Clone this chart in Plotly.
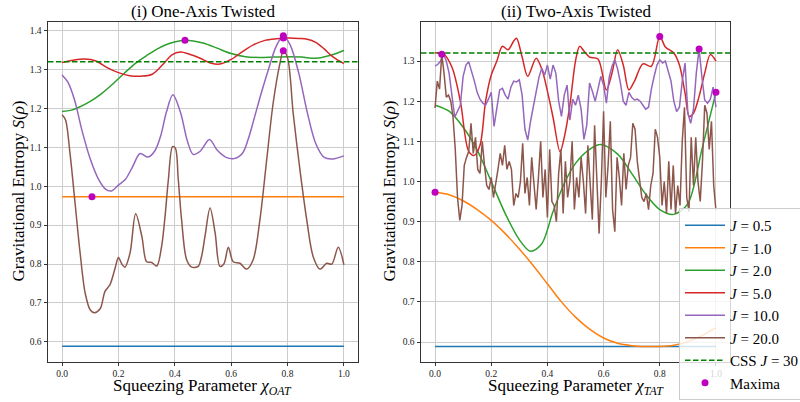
import numpy as np
import plotly.graph_objects as go

# ---------------- One-axis twisted (OAT) ----------------
oat_j05_x = [0.0, 1.0]
oat_j05_s = [0.589, 0.589]

oat_j1_x = [0.0, 1.0]
oat_j1_s = [0.973, 0.973]

oat_j2_x = [0, 0.03, 0.06, 0.1, 0.14, 0.18, 0.22, 0.26, 0.3, 0.34, 0.38, 0.42, 0.436,
            0.46, 0.5, 0.55, 0.6, 0.65, 0.7, 0.75, 0.8, 0.85, 0.9, 0.95, 1.0]
oat_j2_s = [1.192, 1.195, 1.203, 1.218, 1.238, 1.263, 1.290, 1.316, 1.336, 1.354, 1.367,
            1.374, 1.375, 1.374, 1.368, 1.355, 1.341, 1.333, 1.331, 1.332, 1.333, 1.332,
            1.329, 1.336, 1.349]

oat_j5_x = [0, 0.04, 0.08, 0.12, 0.16, 0.2, 0.24, 0.28, 0.32, 0.36, 0.39, 0.42, 0.45, 0.49,
            0.53, 0.56, 0.6, 0.64, 0.68, 0.72, 0.76, 0.8, 0.84, 0.87, 0.9, 0.93, 0.96, 1.0]
oat_j5_s = [1.318, 1.324, 1.327, 1.322, 1.305, 1.292, 1.284, 1.283, 1.288, 1.315, 1.338,
            1.345, 1.340, 1.329, 1.316, 1.314, 1.326, 1.346, 1.364, 1.375, 1.379, 1.381,
            1.380, 1.378, 1.370, 1.353, 1.333, 1.315]

oat_j10_x = [0, 0.02, 0.045, 0.07, 0.1, 0.13, 0.155, 0.175, 0.2, 0.225, 0.25, 0.277, 0.305,
             0.33, 0.35, 0.37, 0.393, 0.42, 0.445, 0.465, 0.49, 0.523, 0.55, 0.58, 0.61,
             0.64, 0.66, 0.68, 0.705, 0.73, 0.76, 0.785, 0.81, 0.84, 0.87, 0.9, 0.93, 0.96,
             1.0]
oat_j10_s = [1.286, 1.268, 1.22, 1.145, 1.07, 1.017, 0.992, 0.988, 1.003, 1.018, 1.05,
             1.084, 1.075, 1.092, 1.13, 1.19, 1.235, 1.19, 1.115, 1.082, 1.09, 1.12, 1.093,
             1.075, 1.071, 1.085, 1.12, 1.17, 1.235, 1.295, 1.36, 1.387, 1.362, 1.29, 1.19,
             1.11, 1.074, 1.07, 1.078]

oat_j20_x = [0, 0.012, 0.028, 0.046, 0.064, 0.082, 0.1, 0.115, 0.135, 0.152, 0.17, 0.188,
             0.2, 0.212, 0.223, 0.241, 0.261, 0.283, 0.3, 0.318, 0.336, 0.353, 0.365, 0.377,
             0.392, 0.402, 0.412, 0.424, 0.442, 0.46, 0.483, 0.495, 0.507, 0.525, 0.543,
             0.56, 0.574, 0.59, 0.607, 0.631, 0.655, 0.678, 0.702, 0.726, 0.749, 0.773,
             0.785, 0.8, 0.82, 0.844, 0.868, 0.891, 0.915, 0.939, 0.957, 0.98, 1.0]
oat_j20_s = [1.184, 1.171, 1.085, 0.957, 0.828, 0.725, 0.682, 0.675, 0.685, 0.729, 0.747,
             0.789, 0.817, 0.800, 0.792, 0.828, 0.929, 0.871, 0.806, 0.804, 0.795, 0.845,
             0.92, 1.016, 1.102, 1.098, 1.02, 0.914, 0.811, 0.792, 0.794, 0.82, 0.871,
             0.944, 0.880, 0.794, 0.80, 0.843, 0.806, 0.802, 0.787, 0.811, 0.914, 1.068,
             1.214, 1.316, 1.348, 1.33, 1.188, 1.042, 0.914, 0.819, 0.787, 0.802, 0.80,
             0.843, 0.798]

oat_max_x = [0.106, 0.436, 0.785, 0.785, 0.785]
oat_max_s = [0.973, 1.375, 1.381, 1.387, 1.348]

# ---------------- Two-axis twisted (TAT) ----------------
tat_j05_x = [0.0, 1.0]
tat_j05_s = [0.589, 0.589]

tat_j1_x = [0, 0.05, 0.1, 0.15, 0.2, 0.25, 0.3, 0.35, 0.4, 0.45, 0.5, 0.55, 0.6, 0.65, 0.7,
            0.75, 0.8, 0.85, 0.9, 0.95, 1.0]
tat_j1_s = [0.973, 0.967, 0.952, 0.930, 0.903, 0.870, 0.832, 0.790, 0.745, 0.700, 0.662,
            0.632, 0.610, 0.597, 0.591, 0.589, 0.589, 0.592, 0.601, 0.616, 0.636]

tat_j2_x = [0, 0.05, 0.1, 0.15, 0.2, 0.25, 0.3, 0.34, 0.38, 0.42, 0.46, 0.5, 0.55, 0.59,
            0.65, 0.7, 0.75, 0.8, 0.85, 0.9, 0.95, 1.0]
tat_j2_s = [1.190, 1.175, 1.135, 1.078, 1.000, 0.920, 0.855, 0.826, 0.845, 0.925, 0.995,
            1.045, 1.080, 1.092, 1.068, 1.020, 0.968, 0.930, 0.918, 0.945, 1.080, 1.222]

tat_j5_x = [0.0, 0.03, 0.06, 0.09, 0.12, 0.14, 0.16, 0.18, 0.2, 0.22, 0.24, 0.26, 0.28, 0.29,
            0.31, 0.33, 0.36, 0.38, 0.4, 0.42, 0.445, 0.46, 0.48, 0.5, 0.515, 0.53, 0.55,
            0.58, 0.61, 0.63, 0.65, 0.67, 0.69, 0.71, 0.74, 0.77, 0.8, 0.82, 0.85, 0.87,
            0.89, 0.905, 0.92, 0.94, 0.96, 0.98, 1.0]
tat_j5_s = [1.320, 1.318, 1.285, 1.200, 1.075, 1.065, 1.090, 1.200, 1.265, 1.300, 1.337,
            1.328, 1.350, 1.357, 1.310, 1.262, 1.307, 1.280, 1.225, 1.160, 1.074, 1.110,
            1.190, 1.300, 1.337, 1.325, 1.310, 1.305, 1.228, 1.270, 1.328, 1.290, 1.228,
            1.250, 1.293, 1.287, 1.361, 1.335, 1.320, 1.290, 1.220, 1.162, 1.170, 1.212,
            1.270, 1.316, 1.300]

tat_j10_s = [1.287, 1.292, 1.300, 1.318, 1.300, 1.270, 1.215, 1.160, 1.175, 1.190, 1.262,
             1.290, 1.298, 1.275, 1.250, 1.222, 1.205, 1.195, 1.190, 1.205, 1.222, 1.137,
             1.180, 1.228, 1.232, 1.215, 1.205, 1.235, 1.250, 1.248, 1.253, 1.215, 1.130,
             1.103, 1.150, 1.187, 1.230, 1.260, 1.282, 1.265, 1.290, 1.255, 1.290, 1.270,
             1.200, 1.162, 1.215, 1.240, 1.153, 1.205, 1.190, 1.215, 1.180, 1.105, 1.140,
             1.245, 1.225, 1.200, 1.230, 1.262, 1.240, 1.195, 1.260, 1.287, 1.303, 1.280,
             1.245, 1.200, 1.190, 1.222, 1.210, 1.203, 1.205, 1.200, 1.190, 1.180, 1.185,
             1.230, 1.262, 1.290, 1.303, 1.295, 1.300, 1.275, 1.250, 1.200, 1.174, 1.185,
             1.250, 1.295, 1.170, 1.145, 1.180, 1.270, 1.330, 1.260, 1.203, 1.195, 1.205,
             1.235, 1.185]
tat_j10_x = np.linspace(0.0, 1.0, len(tat_j10_s))

tat_j20_s = [1.183, 1.250, 1.230, 1.317, 1.270, 1.210, 1.215, 1.200, 1.160, 1.080, 0.960,
             0.903, 0.940, 1.040, 1.060, 1.075, 1.145, 1.070, 1.110, 1.030, 1.020, 1.100,
             1.040, 0.990, 0.980, 1.010, 0.960, 0.990, 1.030, 1.070, 1.040, 1.090, 1.030,
             1.050, 1.030, 0.940, 0.970, 0.960, 1.000, 1.095, 0.970, 1.010, 0.940, 1.060,
             0.990, 0.930, 1.010, 1.100, 0.960, 1.030, 0.910, 1.080, 0.950, 0.940, 0.900,
             1.020, 1.080, 0.920, 1.050, 0.960, 1.000, 1.100, 0.930, 1.010, 0.960, 1.060,
             1.000, 0.920, 1.090, 0.990, 0.905, 1.140, 1.000, 0.870, 1.000, 1.175, 0.960,
             1.040, 1.150, 0.930, 0.875, 1.060, 1.010, 0.940, 1.070, 0.980, 1.040, 1.060,
             1.145, 1.130, 1.050, 1.000, 0.960, 0.950, 0.970, 0.930, 0.990, 1.020, 1.130,
             1.110, 1.060, 0.940, 1.000, 0.920, 1.050, 0.930, 1.040, 0.920, 0.990, 0.940,
             1.100, 1.185, 0.960, 0.925, 1.110, 0.990, 1.110, 1.000, 0.950, 1.050, 1.190,
             1.170, 1.080, 1.150, 0.990, 0.928]
tat_j20_x = np.linspace(0.0, 1.0, len(tat_j20_s))

tat_max_x = [0.0, 0.024, 0.8, 0.94, 1.0]
tat_max_s = [0.973, 1.317, 1.361, 1.330, 1.222]

css_level = 1.32
x_range = [-0.05, 1.05]

series_names = ["<i>J</i> = 0.5", "<i>J</i> = 1.0", "<i>J</i> = 2.0",
                "<i>J</i> = 5.0", "<i>J</i> = 10.0", "<i>J</i> = 20.0"]
css_name = "CSS <i>J</i> = 30"
max_name = "Maxima"

tick_x = [0.0, 0.2, 0.4, 0.6, 0.8, 1.0]
tick_y = [0.6, 0.7, 0.8, 0.9, 1.0, 1.1, 1.2, 1.3, 1.4]

# ---------------- styling ----------------
colors = ["#1f77b4", "#ff7f0e", "#2ca02c", "#d62728", "#9467bd", "#8c564b"]
css_color = "#008000"
max_color = "#bf00bf"
serif = "Liberation Serif"
LW = 1.5

fig = go.Figure()

oat = [(oat_j05_x, oat_j05_s), (oat_j1_x, oat_j1_s), (oat_j2_x, oat_j2_s),
       (oat_j5_x, oat_j5_s), (oat_j10_x, oat_j10_s), (oat_j20_x, oat_j20_s)]
tat = [(tat_j05_x, tat_j05_s), (tat_j1_x, tat_j1_s), (tat_j2_x, tat_j2_s),
       (tat_j5_x, tat_j5_s), (tat_j10_x, tat_j10_s), (tat_j20_x, tat_j20_s)]
tat_shapes = ["linear", "spline", "spline", "spline", "linear", "linear"]

for i, (xs, ys) in enumerate(oat):
    fig.add_trace(go.Scatter(x=xs, y=ys, mode="lines", name=series_names[i],
                             line=dict(color=colors[i], width=LW, shape="spline", smoothing=0.9),
                             showlegend=False, xaxis="x", yaxis="y"))
fig.add_trace(go.Scatter(x=x_range, y=[css_level, css_level], mode="lines", name=css_name,
                         line=dict(color=css_color, width=LW, dash="5.5px,2.5px"),
                         showlegend=False, xaxis="x", yaxis="y"))
fig.add_trace(go.Scatter(x=oat_max_x, y=oat_max_s, mode="markers", name=max_name,
                         marker=dict(color=max_color, size=7), showlegend=False,
                         xaxis="x", yaxis="y"))

for i, (xs, ys) in enumerate(tat):
    fig.add_trace(go.Scatter(x=xs, y=ys, mode="lines", name=series_names[i],
                             line=dict(color=colors[i], width=LW, shape=tat_shapes[i],
                                       smoothing=0.9),
                             showlegend=True, xaxis="x2", yaxis="y2"))
fig.add_trace(go.Scatter(x=x_range, y=[css_level, css_level], mode="lines", name=css_name,
                         line=dict(color=css_color, width=LW, dash="5.5px,2.5px"),
                         showlegend=True, xaxis="x2", yaxis="y2"))
fig.add_trace(go.Scatter(x=tat_max_x, y=tat_max_s, mode="markers", name=max_name,
                         marker=dict(color=max_color, size=7), showlegend=True,
                         xaxis="x2", yaxis="y2"))

W, H = 800, 402
ydom = [40.5 / H, 380.5 / H]

axis_common = dict(showline=True, linecolor="#333333", linewidth=1, mirror=True,
                   showgrid=True, gridcolor="#cccccc", gridwidth=1, zeroline=False,
                   ticks="outside", ticklen=3.5, tickwidth=0.8, tickcolor="#333333",
                   tickfont=dict(family=serif, size=9.5, color="#222222"),
                   automargin=False)

fig.update_layout(
    width=W, height=H, autosize=False,
    margin=dict(l=0, r=0, t=0, b=0, pad=0, autoexpand=False),
    paper_bgcolor="white", plot_bgcolor="white",
    template="none",
    xaxis=dict(domain=[48 / W, 358 / W], range=x_range, tickvals=tick_x,
               ticktext=[f"{v:.1f}" for v in tick_x], anchor="y", **axis_common),
    yaxis=dict(domain=ydom, range=[0.5495, 1.4235], tickvals=tick_y,
               ticktext=[f"{v:.1f}" for v in tick_y], anchor="x", **axis_common),
    xaxis2=dict(domain=[421 / W, 730 / W], range=x_range, tickvals=tick_x,
                ticktext=[f"{v:.1f}" for v in tick_x], anchor="y2", **axis_common),
    yaxis2=dict(domain=ydom, range=[0.5515, 1.3985], tickvals=tick_y,
                ticktext=[f"{v:.1f}" for v in tick_y], anchor="x2", **axis_common),
    legend=dict(x=679 / W, y=(H - 208) / H, xanchor="left", yanchor="top",
                bgcolor="rgba(255,255,255,0.8)", bordercolor="#cccccc", borderwidth=1,
                font=dict(family=serif, size=15, color="black"), itemwidth=40,
                tracegroupgap=0),
    showlegend=True,
)

label_font = dict(family=serif, size=17, color="black")
ann = [
    dict(text="(i) One-Axis Twisted", x=203 / W, y=(H - 11) / H),
    dict(text="(ii) Two-Axis Twisted", x=575.5 / W, y=(H - 11) / H),
    dict(text="Squeezing Parameter <i>χ</i><sub><i>OAT</i></sub>", x=203 / W, y=(H - 387) / H),
    dict(text="Squeezing Parameter <i>χ</i><sub><i>TAT</i></sub>", x=575.5 / W, y=(H - 387) / H),
    dict(text="Gravitational Entropy <i>S</i>(<i>ρ</i>)", x=18 / W, y=(H - 191.5) / H,
         textangle=-90),
    dict(text="Gravitational Entropy <i>S</i>(<i>ρ</i>)", x=389 / W, y=(H - 191.5) / H,
         textangle=-90),
]
for a in ann:
    fig.add_annotation(xref="paper", yref="paper", showarrow=False, xanchor="center",
                       yanchor="middle", font=label_font, **a)

fig.write_html("out.html")
